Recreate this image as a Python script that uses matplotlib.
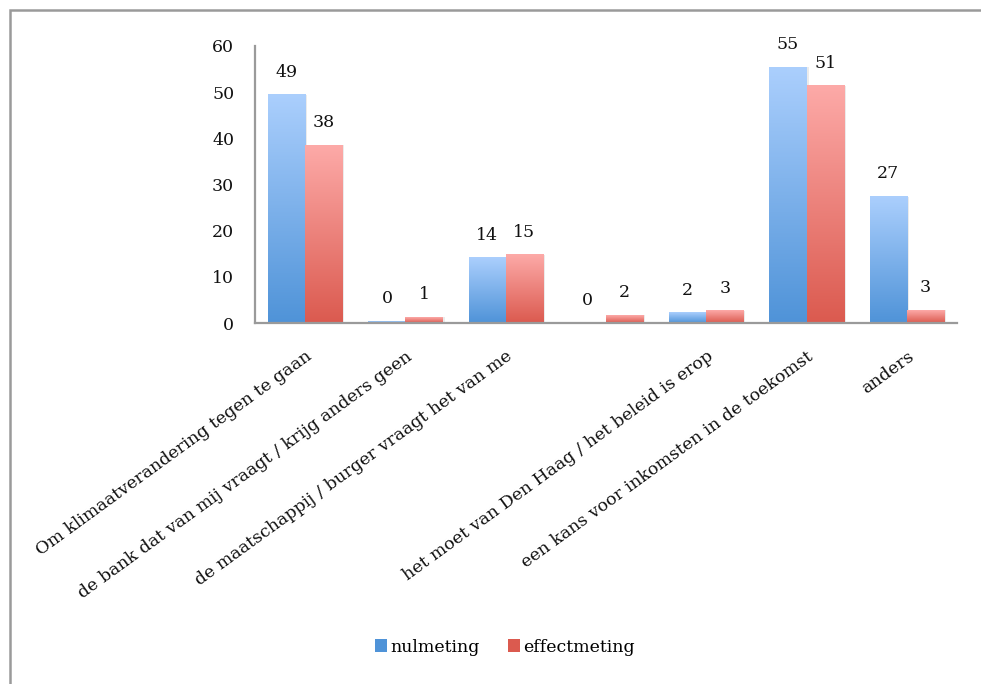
import numpy as np
import matplotlib
matplotlib.use("Agg")
import matplotlib.pyplot as plt
from matplotlib.patches import Rectangle, Patch
from matplotlib.colors import to_rgb

categories = [
    "Om klimaatverandering tegen te gaan",
    "de bank dat van mij vraagt / krijg anders geen",
    "de maatschappij / burger vraagt het van me",
    "",
    "het moet van Den Haag / het beleid is erop",
    "een kans voor inkomsten in de toekomst",
    "anders",
]
nulmeting = [49.4, 0.4, 14.1, 0.0, 2.2, 55.4, 27.4]
effectmeting = [38.5, 1.2, 14.8, 1.7, 2.6, 51.4, 2.8]
series_names = ["nulmeting", "effectmeting"]

# gradient colours (top, bottom)
blue_grad = ("#abcffd", "#4f93d8")
red_grad = ("#fdaaa8", "#db5a4f")

plt.rcParams['font.family'] = ['DejaVu Serif']
FS = 12.5

fig = plt.figure(figsize=(9.81, 6.84), dpi=100)
ax = fig.add_axes([255 / 981, 1 - 323 / 684, 702 / 981, 277 / 684])

x = np.arange(len(categories))
w = 0.37


def gradient_bars(xpos, vals, grad):
    bars = ax.bar(xpos, vals, w, color='none', edgecolor='none', zorder=2)
    top, bot = np.array(to_rgb(grad[0])), np.array(to_rgb(grad[1]))
    t = np.linspace(0, 1, 256)[:, None]
    img = (top * (1 - t) + bot * t)[:, None, :]
    for b, v in zip(bars, vals):
        if v <= 0:
            continue
        x0 = b.get_x()
        # soft shadow
        ax.add_patch(Rectangle((x0 + 0.02, 0), w, v, color='#000000', alpha=0.08,
                               lw=0, zorder=1.5))
        ax.imshow(img, extent=[x0, x0 + w, 0, v], aspect='auto', zorder=2,
                  interpolation='bilinear')
    for xi, v in zip(xpos, vals):
        ax.annotate(f"{v:.0f}", (xi, v), xytext=(0, 13), textcoords='offset points',
                    ha='center', va='baseline', fontsize=FS, color='#111111')
    return bars


gradient_bars(x - w / 2, nulmeting, blue_grad)
gradient_bars(x + w / 2, effectmeting, red_grad)

ax.set_xlim(-0.5, len(categories) - 0.5)
ax.set_ylim(0, 60)
ax.set_yticks(range(0, 61, 10))
ax.set_xticks(x)
ax.set_xticklabels(categories, rotation=36, ha='right', va='top',
                   rotation_mode='anchor', fontsize=FS)
ax.tick_params(axis='both', length=0, labelsize=FS, colors='#111111')
ax.tick_params(axis='x', pad=18)
ax.tick_params(axis='y', pad=15)
for s in ['top', 'right']:
    ax.spines[s].set_visible(False)
for s in ['left', 'bottom']:
    ax.spines[s].set_color('#9a9a9a')
    ax.spines[s].set_linewidth(1.6)

# outer chart border
fig.patches.append(Rectangle((10 / 981, -0.05), 1.1, 1.05 - 10 / 684, transform=fig.transFigure,
                             fill=False, edgecolor='#9a9a9a', lw=1.8))

handles = [Patch(facecolor=blue_grad[1], edgecolor='none'),
           Patch(facecolor=red_grad[1], edgecolor='none')]
fig.legend(handles, series_names, loc='center', bbox_to_anchor=(505 / 981, 1 - 647 / 684),
           ncol=2, frameon=False, fontsize=FS, handlelength=0.7, handleheight=0.7,
           handletextpad=0.2, columnspacing=1.6)

fig.savefig("out.png", dpi=100, facecolor='white')
